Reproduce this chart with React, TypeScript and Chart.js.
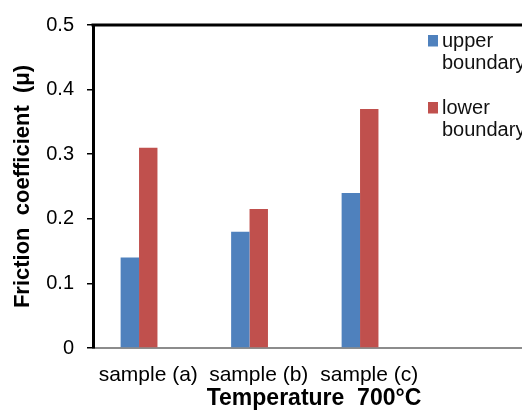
import React, { useEffect, useRef } from 'react';
import { Chart, registerables } from 'chart.js';

Chart.register(...registerables);

const categories = ['sample (a)', 'sample (b)', 'sample (c)', ''];
const upperBoundary = [0.14, 0.18, 0.24, null];
const lowerBoundary = [0.31, 0.215, 0.37, null];
const emptySeries = [null, null, null, null];
const seriesNames = ['upper boundary', 'lower boundary'];
const seriesColors = ['#4F81BD', '#C0504D'];
const yTickLabels = ['0', '0.1', '0.2', '0.3', '0.4', '0.5'];
const xTitle = 'Temperature  700°C';
const yTitle = 'Friction  coefficient  (μ)';

const FONT = "'Liberation Sans', Arial, sans-serif";

const sideLegend = {
  id: 'sideLegend',
  afterDraw(chart: any) {
    const ctx = chart.ctx;
    ctx.save();
    ctx.font = `20px ${FONT}`;
    ctx.textBaseline = 'middle';
    ctx.textAlign = 'left';
    chart.data.datasets.forEach((ds: any, i: number) => {
      if (!ds.label) return;
      const y0 = 41 + i * 67;
      ctx.fillStyle = ds.backgroundColor;
      ctx.fillRect(428, y0 - 6, 10, 11.5);
      ctx.fillStyle = '#111';
      ds.label.split(' ').forEach((line: string, j: number) => {
        ctx.fillText(line, 442, y0 + j * 22);
      });
    });
    ctx.restore();
  },
};

const topBorder = {
  id: 'topBorder',
  afterDraw(chart: any) {
    const { ctx, chartArea } = chart;
    ctx.save();
    ctx.strokeStyle = '#000';
    ctx.lineWidth = 3;
    ctx.beginPath();
    ctx.moveTo(chartArea.left - 1.5, chartArea.top);
    ctx.lineTo(chartArea.right + 20, chartArea.top);
    ctx.stroke();
    ctx.restore();
  },
};

export default function App() {
  const ref = useRef<HTMLCanvasElement>(null);

  useEffect(() => {
    if (!ref.current) return;
    const chart = new Chart(ref.current, {
      type: 'bar',
      data: {
        labels: categories,
        datasets: [
          { label: seriesNames[0], data: upperBoundary, backgroundColor: seriesColors[0] },
          { label: seriesNames[1], data: lowerBoundary, backgroundColor: seriesColors[1] },
          { label: '', data: emptySeries, backgroundColor: 'rgba(0,0,0,0)' },
        ],
      },
      options: {
        responsive: false,
        animation: false,
        events: [],
        datasets: { bar: { categoryPercentage: 0.5, barPercentage: 1 } },
        layout: { padding: { left: 0, top: 24, right: 10, bottom: 0 } },
        plugins: { legend: { display: false }, tooltip: { enabled: false }, title: { display: false } },
        scales: {
          x: {
            type: 'category',
            grid: { display: false, drawTicks: false },
            border: { display: true, color: '#8c8c8c', width: 2 },
            ticks: { color: '#000', font: { family: FONT, size: 21 }, padding: 15, maxRotation: 0, autoSkip: false },
            title: { display: true, text: xTitle, color: '#000', font: { family: FONT, size: 23, weight: 'bold' }, padding: { top: 0, bottom: 0 } },
            afterFit: (s: any) => { s.height = 64; },
          },
          y: {
            min: 0,
            max: 0.5,
            ticks: {
              stepSize: 0.1,
              color: '#000',
              font: { family: FONT, size: 20 },
              padding: 13,
              callback: (_v: any, i: number) => yTickLabels[i],
            },
            grid: { drawOnChartArea: false, drawTicks: true, tickLength: 6, color: '#000', lineWidth: 1.5 },
            border: { display: true, color: '#000', width: 3 },
            title: { display: true, text: yTitle, color: '#000', font: { family: FONT, size: 22, weight: 'bold' }, padding: { top: 10, bottom: 0 } },
            afterFit: (s: any) => { s.width = 93; },
          },
        },
      },
      plugins: [topBorder, sideLegend],
    });
    return () => chart.destroy();
  }, []);

  return (
    <div style={{ position: 'absolute', left: 0, top: 0, width: 522, height: 412, overflow: 'hidden', background: '#fff' }}>
      <canvas ref={ref} width={545} height={412} style={{ width: 545, height: 412, display: 'block' }} />
    </div>
  );
}
